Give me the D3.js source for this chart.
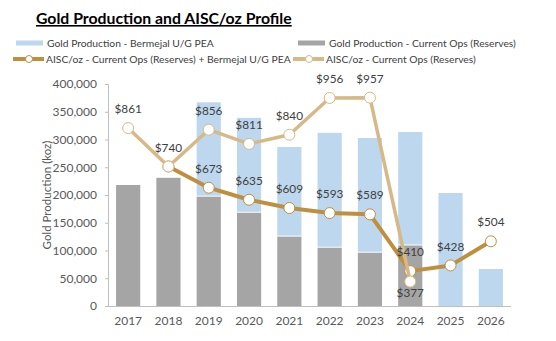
<!DOCTYPE html>
<html lang="en">
<head>
<meta charset="utf-8">
<title>Gold Production and AISC/oz Profile</title>
<script src="https://d3js.org/d3.v7.min.js"></script>
<style>
  body { margin: 0; background: #fff; }
  svg text { font-family: Lato, "Open Sans", sans-serif; }
  .axis path, .axis line { stroke: #bfbfbf; }
  .axis text { fill: #595959; font-size: 12px; }
</style>
<script>
  // chart data
  const years = ["2017", "2018", "2019", "2020", "2021", "2022", "2023", "2024", "2025", "2026"];
  const currentOps = [218000, 231000, 197000, 168000, 125000, 105000, 96000, 109000, 0, 0];
  const bermejal = [0, 0, 170000, 171000, 161500, 207000, 206700, 204500, 203600, 66700];
  const aiscCombined = [null, 740, 673, 635, 609, 593, 589, 410, 428, 504];
  const aiscCurrent = [861, 740, 856, 811, 840, 956, 957, 377, null, null];
  const yTicks = [0, 50000, 100000, 150000, 200000, 250000, 300000, 350000, 400000];

  const width = 556, height = 341;
  const margin = { left: 108, right: 45, top: 84, bottom: 35 };

  const colBlue = "#bdd7ee", colGray = "#a5a5a5";
  const colDark = "#bf8f40", colLight = "#d6b986";
</script>
</head>
<body>
<script>
  const svg = d3.select("body").append("svg")
    .attr("width", width).attr("height", height);

  const x = d3.scaleBand().domain(years)
    .range([margin.left, width - margin.right]).paddingInner(0.4).paddingOuter(0.2);
  const y = d3.scaleLinear().domain([0, 400000]).range([height - margin.bottom, margin.top]);
  // hidden secondary axis for AISC/oz
  const y2 = d3.scaleLinear().domain([300, 1000]).range([height - margin.bottom, margin.top]);

  // title
  svg.append("text")
    .attr("x", 36).attr("y", 24)
    .attr("font-size", 15.8).attr("font-weight", "bold")
    .attr("text-decoration", "underline")
    .attr("fill", "#000")
    .text("Gold Production and AISC/oz Profile");

  // legend
  const legend = svg.append("g").attr("font-size", 10.3).attr("fill", "#404040");
  const legendItems = [
    { type: "bar", color: colBlue, x: 16, y: 43, label: "Gold Production - Bermejal U/G PEA" },
    { type: "bar", color: colGray, x: 298, y: 43, label: "Gold Production - Current Ops (Reserves)" },
    { type: "line", color: colDark, x: 13, y: 59, label: "AISC/oz - Current Ops (Reserves) + Bermejal U/G PEA" },
    { type: "line", color: colLight, x: 293, y: 59, label: "AISC/oz - Current Ops (Reserves)" }
  ];
  legendItems.forEach(d => {
    if (d.type === "bar") {
      legend.append("rect").attr("x", d.x).attr("y", d.y - 2.5)
        .attr("width", 27).attr("height", 5).attr("fill", d.color);
    } else {
      legend.append("line").attr("x1", d.x).attr("x2", d.x + 31)
        .attr("y1", d.y).attr("y2", d.y)
        .attr("stroke", d.color).attr("stroke-width", 4);
      legend.append("circle").attr("cx", d.x + 16).attr("cy", d.y).attr("r", 3.5)
        .attr("fill", "#fff").attr("stroke", d.color).attr("stroke-width", 1);
    }
    legend.append("text").attr("x", d.x + (d.type === "bar" ? 31 : 33)).attr("y", d.y)
      .attr("dy", "0.35em").attr("fill", "#404040").text(d.label);
  });

  // axes
  const yAxis = d3.axisLeft(y).tickValues(yTicks).tickSize(3).tickPadding(8)
    .tickFormat(d3.format(","));
  svg.append("g").attr("class", "axis")
    .attr("transform", `translate(${margin.left},0)`)
    .call(yAxis);

  const xAxis = d3.axisBottom(x).tickSize(0).tickPadding(10);
  svg.append("g").attr("class", "axis")
    .attr("transform", `translate(0,${height - margin.bottom})`)
    .call(xAxis)
    .call(g => g.select(".domain").attr("d", `M${margin.left},0.5H${width - margin.right}`));

  svg.append("text")
    .attr("transform", `translate(47,${(y(0) + y(400000)) / 2}) rotate(-90)`)
    .attr("text-anchor", "middle").attr("dy", "0.35em")
    .attr("font-size", 11.5).attr("fill", "#595959")
    .text("Gold Production (koz)");

  // stacked bars
  const bars = svg.append("g");
  years.forEach((yr, i) => {
    if (currentOps[i] > 0) {
      bars.append("rect")
        .attr("x", x(yr)).attr("width", x.bandwidth())
        .attr("y", y(currentOps[i])).attr("height", y(0) - y(currentOps[i]))
        .attr("fill", colGray);
    }
    if (bermejal[i] > 0) {
      const top = currentOps[i] + bermejal[i];
      bars.append("rect")
        .attr("x", x(yr)).attr("width", x.bandwidth())
        .attr("y", y(top)).attr("height", y(currentOps[i]) - y(top) - (currentOps[i] > 0 ? 1 : 0))
        .attr("fill", colBlue);
    }
  });

  // AISC lines
  const cx = yr => x(yr) + x.bandwidth() / 2;
  const drawLine = (vals, color, w) => {
    const pts = years.map((yr, i) => [yr, vals[i]]).filter(d => d[1] != null);
    svg.append("path").datum(pts)
      .attr("fill", "none").attr("stroke", color).attr("stroke-width", w)
      .attr("stroke-linejoin", "round")
      .attr("d", d3.line().x(d => cx(d[0])).y(d => y2(d[1])));
    svg.append("g").selectAll("circle").data(pts).join("circle")
      .attr("cx", d => cx(d[0])).attr("cy", d => y2(d[1])).attr("r", 5.5)
      .attr("fill", "#fff").attr("stroke", color).attr("stroke-width", 1);
    return pts;
  };
  const darkPts = drawLine(aiscCombined, colDark, 4);
  const lightPts = drawLine(aiscCurrent, colLight, 3.5);

  // value labels
  const labels = svg.append("g").attr("font-size", 11.8).attr("fill", "#404040")
    .attr("text-anchor", "middle");
  darkPts.filter(d => d[0] !== "2018").forEach(d => {
    labels.append("text").attr("x", cx(d[0])).attr("y", y2(d[1]) - 19)
      .attr("dy", "0.35em").text("$" + d[1]);
  });
  lightPts.forEach(d => {
    const below = d[0] === "2024";
    labels.append("text").attr("x", cx(d[0]))
      .attr("y", y2(d[1]) + (below ? 11 : -19))
      .attr("dy", "0.35em").text("$" + d[1]);
  });
</script>
</body>
</html>
